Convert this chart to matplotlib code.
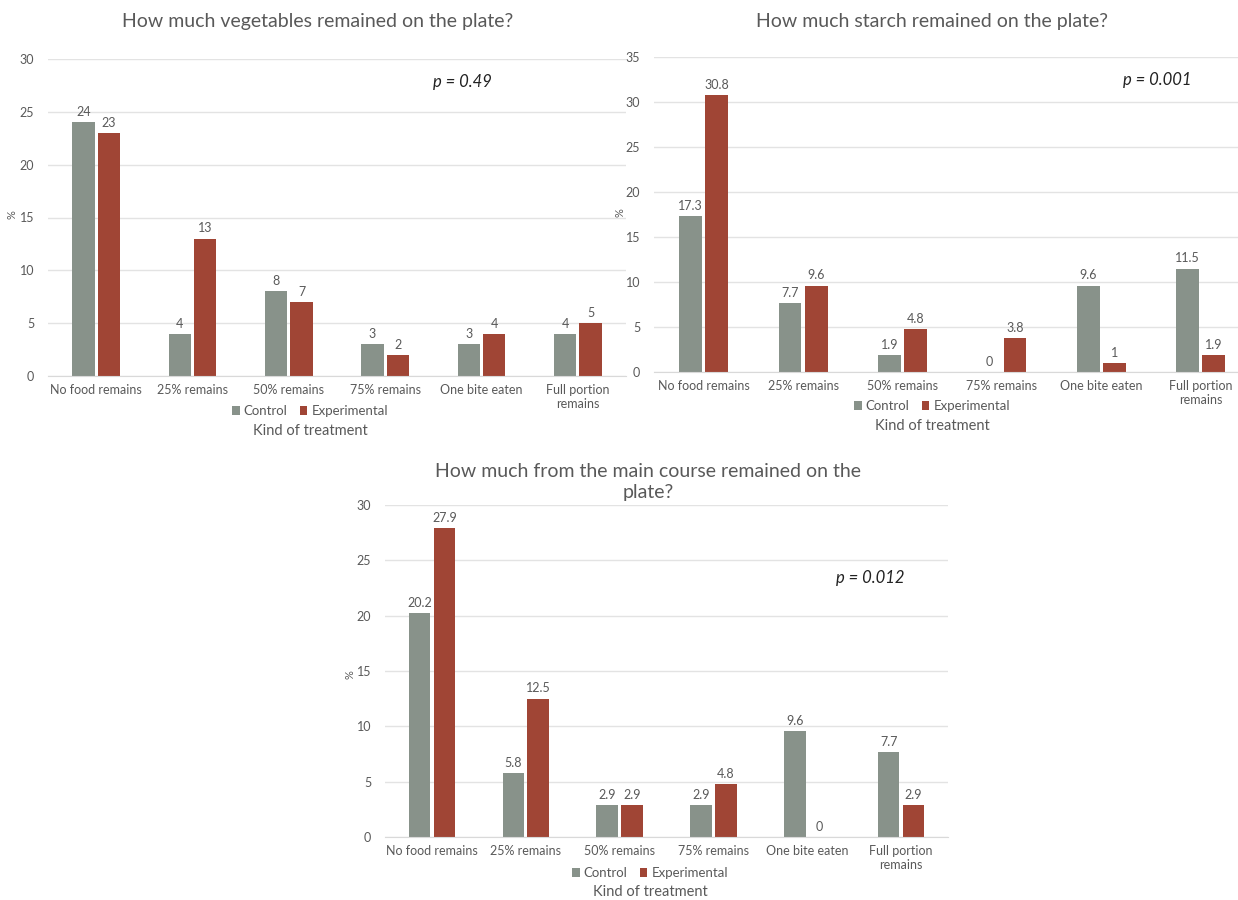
import matplotlib.pyplot as plt
import numpy as np

# data
categories = ['No food remains', '25% remains', '50% remains', '75% remains',
              'One bite eaten', 'Full portion\nremains']
veg_control = [24, 4, 8, 3, 3, 4]
veg_experimental = [23, 13, 7, 2, 4, 5]
starch_control = [17.3, 7.7, 1.9, 0, 9.6, 11.5]
starch_experimental = [30.8, 9.6, 4.8, 3.8, 1, 1.9]
main_control = [20.2, 5.8, 2.9, 2.9, 9.6, 7.7]
main_experimental = [27.9, 12.5, 2.9, 4.8, 0, 2.9]
p_values = ['p = 0.49', 'p = 0.001', 'p = 0.012']

plt.rcParams['font.family'] = ['Lato', 'DejaVu Sans']
TXT = '#595959'
C_CTRL = '#88928A'
C_EXP = '#A04535'

W, H = 1238, 900
fig = plt.figure(figsize=(W / 100, H / 100), dpi=100)


def px_axes(left, right, top, bottom):
    return fig.add_axes([left / W, 1 - bottom / H, (right - left) / W, (bottom - top) / H])


def draw(ax, control, experimental, ymax, xmax, fmt):
    x = np.arange(len(categories))
    w = 0.23
    b1 = ax.bar(x - 0.132, control, w, color=C_CTRL, label='Control')
    b2 = ax.bar(x + 0.132, experimental, w, color=C_EXP, label='Experimental')
    for bars, vals in ((b1, control), (b2, experimental)):
        ax.bar_label(bars, labels=[fmt(v) for v in vals], padding=3,
                     fontsize=9, color=TXT)
    ax.set_xlim(-0.5, xmax)
    ax.set_ylim(0, ymax)
    ax.set_yticks(np.arange(0, ymax + 1, 5))
    ax.set_xticks(x)
    ax.set_xticklabels(categories, fontsize=9, color=TXT)
    ax.tick_params(axis='both', length=0, labelsize=9, colors=TXT)
    ax.tick_params(axis='y', pad=10)
    ax.tick_params(axis='x', pad=6)
    ax.grid(axis='y', color='#E3E3E3', linewidth=1)
    ax.set_axisbelow(True)
    for s in ['top', 'right', 'left']:
        ax.spines[s].set_visible(False)
    ax.spines['bottom'].set_color('#D9D9D9')


def legend_and_labels(ax, cx, ly, xy, yl):
    ax.legend(loc='center', bbox_to_anchor=(cx / W, 1 - ly / H),
              bbox_transform=fig.transFigure, ncol=2, frameon=False,
              fontsize=9.5, handlelength=0.6, handleheight=0.6,
              handletextpad=0.3, columnspacing=0.9, labelcolor=TXT)
    fig.text(cx / W, 1 - xy / H, 'Kind of treatment', ha='center', va='center',
             fontsize=10.5, color=TXT)
    fig.text(yl[0] / W, 1 - yl[1] / H, '%', rotation=90, ha='center', va='center',
             fontsize=8, color=TXT)


# vegetables
ax1 = px_axes(48, 626, 59, 376)
draw(ax1, veg_control, veg_experimental, 30, 5.5, lambda v: f'{v:g}')
fig.text(318 / W, 1 - 22 / H, 'How much vegetables remained on the plate?',
         ha='center', va='center', fontsize=14, color=TXT)
fig.text(462 / W, 1 - 82 / H, p_values[0], ha='center', va='center',
         fontsize=12, style='italic', color='#222222')
legend_and_labels(ax1, 310, 411, 431, (12, 215))

# starch
ax2 = px_axes(654, 1238, 57, 372)
draw(ax2, starch_control, starch_experimental, 35, -0.5 + 584 / 99.4, lambda v: f'{v:g}')
fig.text(932 / W, 1 - 21 / H, 'How much starch remained on the plate?',
         ha='center', va='center', fontsize=14, color=TXT)
fig.text(1157 / W, 1 - 80 / H, p_values[1], ha='center', va='center',
         fontsize=12, style='italic', color='#222222')
legend_and_labels(ax2, 932, 406, 426, (620, 213))

# main course
ax3 = px_axes(385, 948, 505, 837)
draw(ax3, main_control, main_experimental, 30, 5.5, lambda v: f'{v:g}')
fig.text(648 / W, 1 - 482 / H, 'How much from the main course remained on the\nplate?',
         ha='center', va='center', fontsize=14, color=TXT, linespacing=1.25)
fig.text(870 / W, 1 - 578 / H, p_values[2], ha='center', va='center',
         fontsize=12, style='italic', color='#222222')
legend_and_labels(ax3, 650, 873, 892, (350, 675))

plt.savefig('out.png', dpi=100)
